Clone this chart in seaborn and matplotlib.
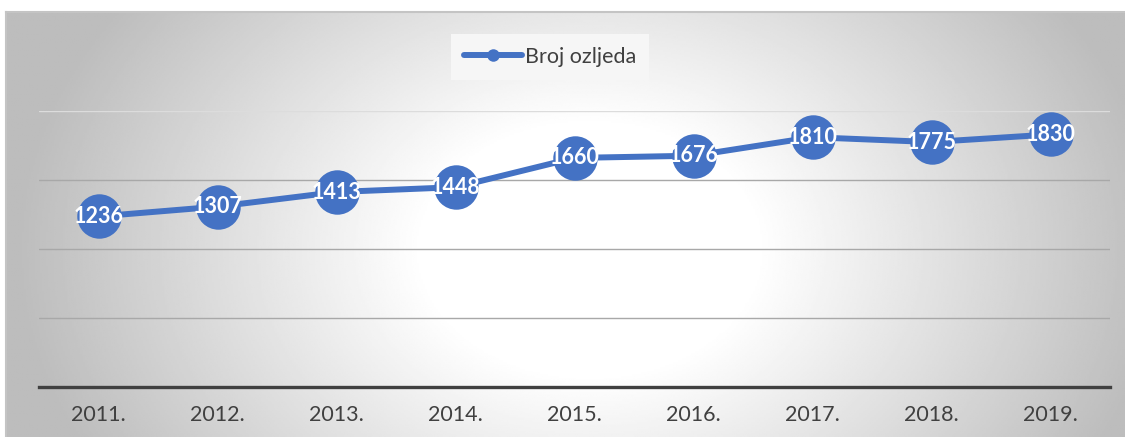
import numpy as np
import pandas as pd
import seaborn as sns
import matplotlib.pyplot as plt
from matplotlib.lines import Line2D

years = ["2011.", "2012.", "2013.", "2014.", "2015.", "2016.", "2017.", "2018.", "2019."]
injuries = [1236, 1307, 1413, 1448, 1660, 1676, 1810, 1775, 1830]
series_name = "Broj ozljeda"

df = pd.DataFrame({"Godina": years, series_name: injuries})

sns.set_theme(style="white")
plt.rcParams["font.family"] = ["Lato", "DejaVu Sans"]

W, H = 1125, 437
fig = plt.figure(figsize=(W / 100, H / 100), dpi=100)
fig.patch.set_facecolor("white")

# radial grey background of the chart area
bg = fig.add_axes([6 / W, 0, 1 - 6 / W, 1 - 12 / H])
xx, yy = np.meshgrid(np.linspace(6, W, 600), np.linspace(12, H, 240))
t = np.sqrt(((xx - 590) / 560) ** 2 + ((yy - 250) / 420) ** 2)
shade = 255 - 66 * np.clip((t - 0.3) / 0.72, 0, 1)
bg.imshow(shade, cmap="gray", vmin=0, vmax=255, aspect="auto",
          extent=[0, 1, 0, 1], origin="upper")
bg.set_xticks([])
bg.set_yticks([])
for side, sp in bg.spines.items():
    sp.set_visible(side in ("top", "left"))
    sp.set_color("#c4c4c4")
    sp.set_linewidth(1.5)

ax = fig.add_axes([39 / W, 1 - 387 / H, (1110 - 39) / W, (387 - 111) / H])
ax.patch.set_alpha(0)

sns.lineplot(data=df, x="Godina", y=series_name, ax=ax, color="#4472C4",
             linewidth=4.3, marker="o", markersize=32, markeredgewidth=0,
             sort=False, legend=False, zorder=3)

for i, v in enumerate(injuries):
    ax.text(i, v, str(v), ha="center", va="center", color="white",
            fontsize=15.5, fontweight="bold", zorder=4, clip_on=False)

ax.set_xlim(-0.5, len(years) - 0.5)
ax.set_ylim(0, 2000)
ax.set_yticks([0, 500, 1000, 1500, 2000])
ax.set_yticklabels([])
ax.yaxis.grid(True, color="#a8a8a8", linewidth=1)
ax.get_ygridlines()[-1].set_color("#dcdcdc")
ax.set_axisbelow(True)
ax.set_xlabel("")
ax.set_ylabel("")
ax.tick_params(axis="x", length=0, pad=13, labelsize=15.5, labelcolor="#404040")
ax.tick_params(axis="y", length=0)
for side in ("top", "left", "right"):
    ax.spines[side].set_visible(False)
ax.spines["bottom"].set_color("#404040")
ax.spines["bottom"].set_linewidth(2.4)

handle = Line2D([], [], color="#4472C4", linewidth=4.3, marker="o",
                markersize=9, markeredgewidth=0)
leg = fig.legend([handle], [series_name], loc="center",
                 bbox_to_anchor=(550 / W, 1 - 57 / H), frameon=True,
                 fontsize=15.5, handlelength=2.7, handletextpad=0.15,
                 borderpad=0.6, borderaxespad=0, fancybox=False,
                 labelcolor="#404040")
leg.get_frame().set_facecolor("#f6f6f6")
leg.get_frame().set_edgecolor("none")
leg.get_frame().set_alpha(1)

fig.savefig("out.png", dpi=100)
